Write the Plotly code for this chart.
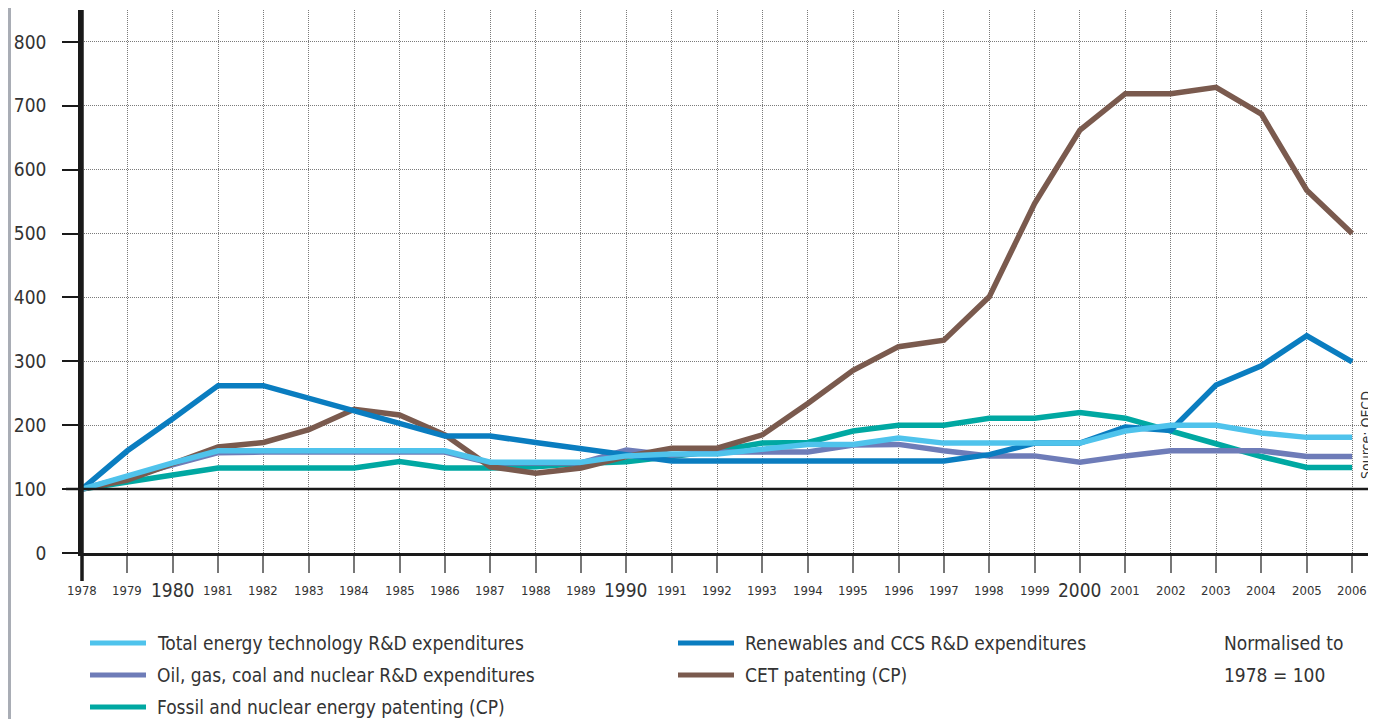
import plotly.graph_objects as go

years = list(range(1978, 2007))

total_rd = [100, 121, 141, 160, 160, 160, 160, 160, 160, 142, 142, 142, 152, 155, 155, 163, 170, 170, 180,
            172, 172, 172, 172, 191, 200, 200, 188, 181, 181]
renew_rd = [100, 160, 210, 262, 262, 243, 223, 203, 183, 183, 173, 164, 155, 144, 144, 144, 144, 144, 144,
            144, 154, 172, 172, 197, 192, 263, 293, 340, 299]
fossil_rd = [100, 119, 139, 157, 158, 158, 158, 158, 158, 141, 141, 141, 161, 153, 158, 158, 158, 169, 170,
             160, 152, 152, 142, 152, 160, 160, 160, 151, 151]
cet_pat = [100, 114, 140, 166, 173, 193, 225, 216, 185, 135, 125, 133, 151, 164, 164, 185, 234, 286, 323,
           333, 401, 547, 662, 719, 719, 729, 687, 568, 500]
fossil_pat = [100, 112, 122, 133, 133, 133, 133, 143, 133, 133, 135, 140, 143, 151, 160, 172, 173, 191, 200,
              200, 211, 211, 220, 211, 190, 171, 151, 134, 134]

names = ["Total energy technology R&D expenditures", "Renewables and CCS R&D expenditures",
         "Oil, gas, coal and nuclear R&D expenditures", "CET patenting (CP)",
         "Fossil and nuclear energy patenting (CP)"]
series = [total_rd, renew_rd, fossil_rd, cet_pat, fossil_pat]
colors = ["#4FC3EC", "#0A7DC0", "#6E7CB8", "#7A5A4E", "#00A8A2"]
draw_order = [4, 2, 3, 1, 0]

y_ticks = list(range(0, 900, 100))
big_years = [1980, 1990, 2000]
note_lines = ["Normalised to", "1978 = 100"]
source_text = "Source: OECD"

# page body has an 8px margin: work in reference pixels, offset by 8
OX, OY = 8, 8
W, H = 1376 - OX, 719 - OY
ML, MT = 82 - OX, 10 - OY
MR = W - (1368 - OX)
MB = H - (553 - OY)
PW, PH = W - ML - MR, H - MT - MB
FONT = "DejaVu Sans Condensed, DejaVu Sans, sans-serif"
TXT = "#333333"


def px(xp):
    return (xp - OX - ML) / PW


def py(yp):
    return (H - MB - (yp - OY)) / PH


fig = go.Figure()
for i in draw_order:
    fig.add_trace(go.Scatter(x=years, y=series[i], mode="lines", name=names[i],
                             line=dict(color=colors[i], width=5.5), showlegend=False))

# horizontal 100 baseline
fig.add_shape(type="line", xref="paper", yref="y", x0=px(66), x1=1, y0=100, y1=100,
              line=dict(color="#1a1a1a", width=2.5))
# extended y axis line
fig.add_shape(type="line", xref="paper", yref="paper", x0=0, x1=0, y0=py(581), y1=1,
              line=dict(color="#1a1a1a", width=3.5))
# left page border
fig.add_shape(type="rect", xref="paper", yref="paper", x0=px(8), x1=px(11), y0=py(719), y1=py(8),
              fillcolor="#A9ADB5", line=dict(width=0), layer="below")

# x tick labels
for yr in years:
    big = yr in big_years
    fig.add_annotation(x=yr, y=py(590), xref="x", yref="paper", text=str(yr), showarrow=False,
                       xanchor="center", yanchor="middle",
                       font=dict(family=FONT, size=19 if big else 13, color=TXT))

# source
fig.add_annotation(x=px(1375), y=py(435), xref="paper", yref="paper", text=source_text, textangle=-90,
                   showarrow=False, xanchor="right", yanchor="middle", borderpad=0,
                   font=dict(family=FONT, size=14, color=TXT))

# custom legend
legend_pos = [(90, 643), (678, 643), (90, 675), (678, 675), (90, 707)]
for i, (lx, ly) in enumerate(legend_pos):
    fig.add_shape(type="line", xref="paper", yref="paper", x0=px(lx), x1=px(lx + 56), y0=py(ly), y1=py(ly),
                  line=dict(color=colors[i], width=5))
    fig.add_annotation(x=px(lx + 65), y=py(ly), xref="paper", yref="paper", text=names[i], showarrow=False,
                       xanchor="left", yanchor="middle", font=dict(family=FONT, size=19, color=TXT))
for j, t in enumerate(note_lines):
    fig.add_annotation(x=px(1222), y=py(643 + 32 * j), xref="paper", yref="paper", text=t, showarrow=False,
                       xanchor="left", yanchor="middle", font=dict(family=FONT, size=19, color=TXT))

fig.update_xaxes(range=[1978, 2006.35], tickvals=years, showticklabels=False, ticks="outside", ticklen=17,
                 tickwidth=2, tickcolor="#777777", showgrid=True, gridcolor="#7a7a7a", griddash="1px,1px",
                 gridwidth=1, showline=True, linecolor="#1a1a1a", linewidth=2.5, zeroline=False)
fig.update_yaxes(range=[0, 850], tickvals=y_ticks, ticks="outside", ticklen=16, tickwidth=2,
                 tickcolor="#1a1a1a", showgrid=True, gridcolor="#7a7a7a", griddash="1px,1px", gridwidth=1,
                 showline=True, linecolor="#1a1a1a", linewidth=3.5, zeroline=False,
                 tickfont=dict(family=FONT, size=19, color=TXT), ticklabelstandoff=12)

fig.update_layout(width=W, height=H, margin=dict(l=ML, r=MR, t=MT, b=MB), plot_bgcolor="white",
                  paper_bgcolor="white", font=dict(family=FONT, color=TXT), showlegend=False)

fig.write_html("out.html")
